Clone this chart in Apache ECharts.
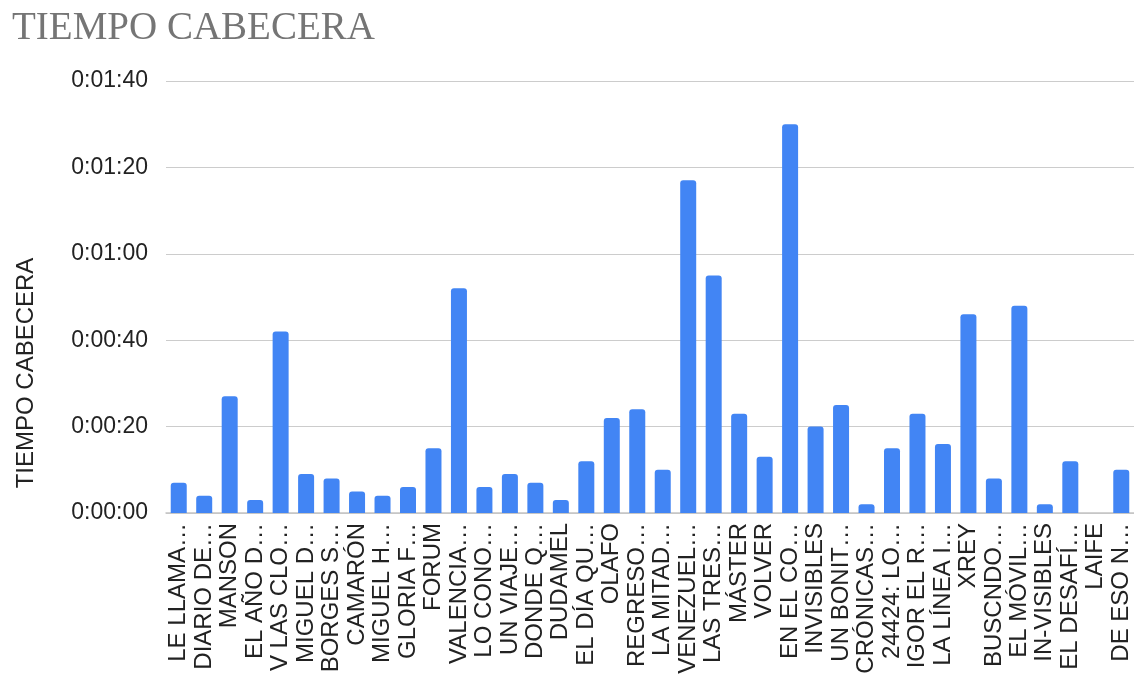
<!DOCTYPE html>
<html>
<head>
<meta charset="utf-8">
<script src="https://cdn.jsdelivr.net/npm/echarts@6/dist/echarts.min.js"></script>
<style>html,body{margin:0;padding:0;background:#fff}#c{width:1134px;height:674px}</style>
</head>
<body>
<div id="c"></div>
<script>
const categories = ["LE LLAMA…","DIARIO DE…","MANSON","EL AÑO D…","V LAS CLO…","MIGUEL D…","BORGES S…","CAMARÓN","MIGUEL H…","GLORIA F…","FORUM","VALENCIA…","LO CONO…","UN VIAJE…","DONDE Q…","DUDAMEL","EL DÍA QU…","OLAFO","REGRESO…","LA MITAD…","VENEZUEL…","LAS TRES…","MÁSTER","VOLVER","EN EL CO…","INVISIBLES","UN BONIT…","CRÓNICAS…","24424: LO…","IGOR EL R…","LA LÍNEA I…","XREY","BUSCNDO…","EL MÓVIL…","IN-VISIBLES","EL DESAFÍ…","LAIFE","DE ESO N…"];
// seconds
const tiempoCabecera = [7,4,27,3,42,9,8,5,4,6,15,52,6,9,7,3,12,22,24,10,77,55,23,13,90,20,25,2,15,23,16,46,8,48,2,12,0,10];
const yTicks = [0,20,40,60,80,100];

function fmt(s){
  const h = Math.floor(s/3600), m = Math.floor((s%3600)/60), sec = s%60;
  return h + ':' + String(m).padStart(2,'0') + ':' + String(sec).padStart(2,'0');
}

const chart = echarts.init(document.getElementById('c'));
chart.setOption({
  animation:false,
  title:{
    text:'TIEMPO CABECERA', left:7, top:4,
    textStyle:{fontFamily:'Liberation Serif', fontSize:39, fontWeight:'normal', color:'#757575'}
  },
  grid:{left:166, right:0, top:81, bottom:161, containLabel:false, outerBoundsMode:'none'},
  xAxis:{
    type:'category', data:categories,
    axisTick:{show:false},
    axisLine:{lineStyle:{color:'#c4c4c4', width:1.5}},
    axisLabel:{interval:0, rotate:90, fontFamily:'Liberation Sans', fontSize:24, color:'#222', margin:10}
  },
  yAxis:{
    type:'value', min:yTicks[0], max:yTicks[yTicks.length-1], interval:20,
    name:'TIEMPO CABECERA', nameLocation:'middle', nameRotate:90, nameGap:128,
    nameTextStyle:{fontFamily:'Liberation Sans', fontSize:24, color:'#222', padding:[0,152,0,0]},
    axisLine:{show:false}, axisTick:{show:false},
    axisLabel:{formatter:v=>fmt(v), fontFamily:'Liberation Sans', fontSize:23, color:'#222', margin:18},
    splitLine:{lineStyle:{color:'#cccccc', width:1}}
  },
  series:[{
    type:'bar', data:tiempoCabecera, barWidth:16,
    itemStyle:{color:'#4285F4', borderRadius:[3,3,0,0]}
  }]
});
</script>
</body>
</html>
